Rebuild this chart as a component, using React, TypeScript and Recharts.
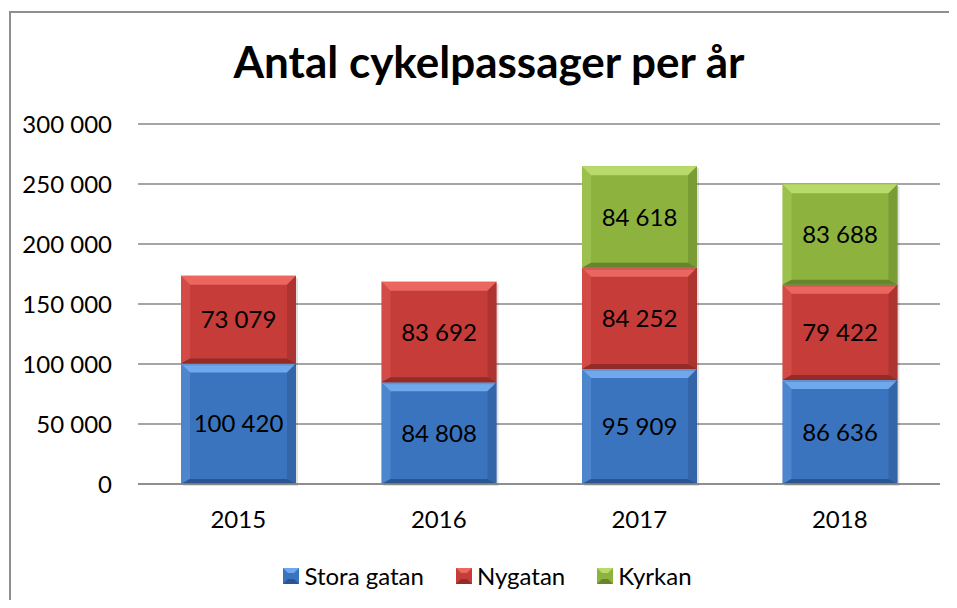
import React from 'react'
import { BarChart, Bar, XAxis, YAxis, CartesianGrid, Legend, LabelList } from 'recharts'

const years = ['2015', '2016', '2017', '2018']
const storaGatan = [100420, 84808, 95909, 86636]
const nygatan = [73079, 83692, 84252, 79422]
const kyrkan: (number | null)[] = [null, null, 84618, 83688]
const yTicks = [0, 50000, 100000, 150000, 200000, 250000, 300000]

const data = years.map((year, i) => ({
  year,
  stora: storaGatan[i],
  ny: nygatan[i],
  kyrkan: kyrkan[i],
}))

const FONT = 'Lato, "Open Sans", sans-serif'

const palette = {
  stora: { base: '#3b74be', light: '#6fa8ec', dark: '#2b5591' },
  ny: { base: '#c63c39', light: '#ec6660', dark: '#932b29' },
  kyrkan: { base: '#8db33e', light: '#b8da6a', dark: '#66852c' },
}

const fmt = (n: number | null | undefined) =>
  n == null || n === 0 ? '' : String(n).replace(/\B(?=(\d{3})+(?!\d))/g, ' ')

// bevelled bar segment, Excel 2007 style
function bevelShape(c: { base: string; light: string; dark: string }) {
  return (props: any) => {
    const { x, y, width, height } = props
    if (!height || height <= 0) return <g />
    const b = Math.min(9, height / 4, width / 4)
    const bb = Math.min(5, height / 5)
    const x2 = x + width
    const y2 = y + height
    return (
      <g>
        <rect x={x + 2} y={y + 2} width={width} height={height} fill="#000" opacity={0.12} />
        <rect x={x} y={y} width={width} height={height} fill={c.base} />
        <polygon points={`${x},${y} ${x2},${y} ${x2 - b},${y + b} ${x + b},${y + b}`} fill={c.light} />
        <polygon points={`${x},${y} ${x + b},${y + b} ${x + b},${y2 - bb} ${x},${y2}`} fill={c.light} opacity={0.35} />
        <polygon points={`${x2},${y} ${x2},${y2} ${x2 - b},${y2 - bb} ${x2 - b},${y + b}`} fill={c.dark} opacity={0.5} />
        <polygon points={`${x},${y2} ${x2},${y2} ${x2 - b},${y2 - bb} ${x + b},${y2 - bb}`} fill={c.dark} />
      </g>
    )
  }
}

const legendItems = [
  { name: 'Stora gatan', c: palette.stora },
  { name: 'Nygatan', c: palette.ny },
  { name: 'Kyrkan', c: palette.kyrkan },
]

function renderLegend() {
  return (
    <div style={{ display: 'flex', justifyContent: 'center', gap: 32, fontFamily: FONT, fontSize: 24, color: '#000', paddingLeft: 10 }}>
      {legendItems.map(item => (
        <div key={item.name} style={{ display: 'flex', alignItems: 'center' }}>
          <svg width={16} height={16} style={{ marginRight: 5 }}>
            <rect x={0} y={0} width={16} height={16} fill={item.c.base} />
            <polygon points="0,0 16,0 11,5 5,5" fill={item.c.light} />
            <polygon points="0,16 16,16 11,11 5,11" fill={item.c.dark} />
          </svg>
          <span>{item.name}</span>
        </div>
      ))}
    </div>
  )
}

const labelStyle = { fill: '#000', fontSize: 24, fontFamily: FONT }

export default function App() {
  return (
    <div style={{ position: 'relative', width: 941, height: 592, overflow: 'hidden', background: '#fff' }}>
      {/* chart frame: only top and left edges fall inside the window */}
      <div style={{ position: 'absolute', left: 1, top: 3, width: 940, height: 2, background: '#8f8f8f' }} />
      <div style={{ position: 'absolute', left: 1, top: 3, width: 2, height: 600, background: '#8f8f8f' }} />
      <div
        style={{
          position: 'absolute',
          left: 0,
          width: 962,
          top: 31,
          textAlign: 'center',
          fontFamily: FONT,
          fontWeight: 700,
          fontSize: 44,
          lineHeight: '44px',
          color: '#000',
        }}
      >
        Antal cykelpassager per år
      </div>
      <BarChart
        width={949}
        height={600}
        data={data}
        margin={{ top: 116, right: 17, left: 0, bottom: 64 }}
        barSize={115}
        style={{ position: 'absolute', left: 0, top: 0 }}
      >
        <CartesianGrid vertical={false} stroke="#878787" strokeWidth={1.5} />
        <XAxis
          dataKey="year"
          height={60}
          axisLine={{ stroke: '#878787', strokeWidth: 1.5 }}
          tickLine={false}
          tickSize={0}
          tickMargin={27}
          tick={{ fill: '#000', fontSize: 24, fontFamily: FONT }}
        />
        <YAxis
          width={130}
          domain={[0, 300000]}
          ticks={yTicks}
          tickFormatter={v => (v === 0 ? '0' : fmt(v))}
          axisLine={false}
          tickLine={false}
          tickSize={0}
          tickMargin={26}
          tick={{ fill: '#000', fontSize: 24, fontFamily: FONT }}
        />
        <Legend
          layout="horizontal"
          verticalAlign="middle"
          align="center"
          content={renderLegend}
          wrapperStyle={{ top: 553, left: 0, width: 949 }}
        />
        <Bar dataKey="stora" name="Stora gatan" stackId="a" fill={palette.stora.base} shape={bevelShape(palette.stora)} isAnimationActive={false}>
          <LabelList dataKey="stora" position="center" formatter={fmt} style={labelStyle} />
        </Bar>
        <Bar dataKey="ny" name="Nygatan" stackId="a" fill={palette.ny.base} shape={bevelShape(palette.ny)} isAnimationActive={false}>
          <LabelList dataKey="ny" position="center" formatter={fmt} style={labelStyle} />
        </Bar>
        <Bar dataKey="kyrkan" name="Kyrkan" stackId="a" fill={palette.kyrkan.base} shape={bevelShape(palette.kyrkan)} isAnimationActive={false}>
          <LabelList dataKey="kyrkan" position="center" formatter={fmt} style={labelStyle} />
        </Bar>
      </BarChart>
    </div>
  )
}
